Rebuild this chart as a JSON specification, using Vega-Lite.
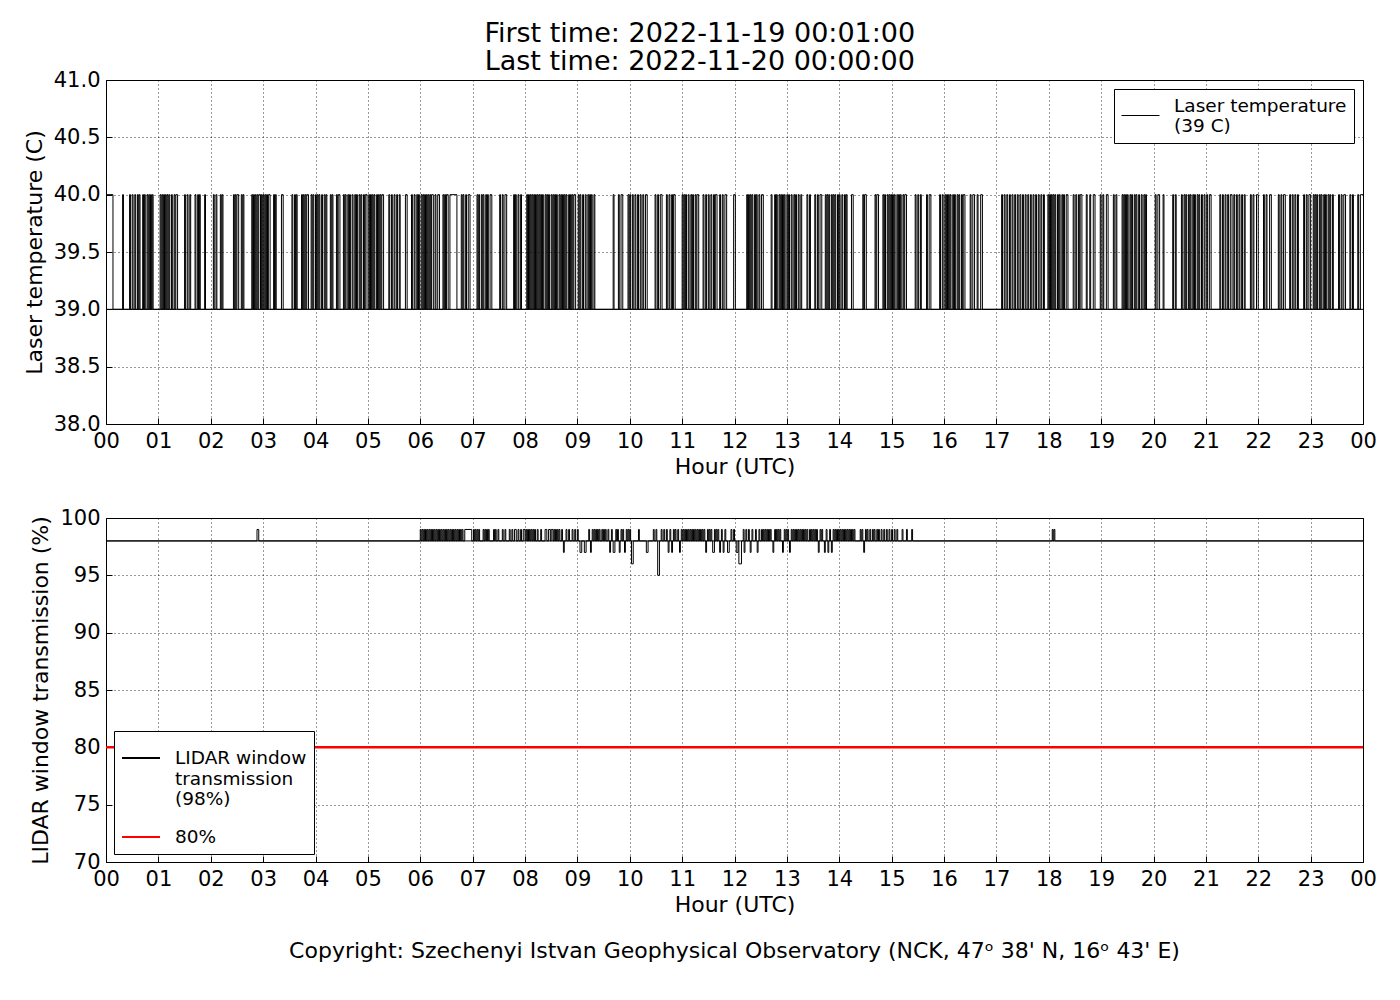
{
  "$schema": "https://vega.github.io/schema/vega-lite/v6.json",
  "background": "white",
  "padding": {"left": 22, "top": 19, "right": 12, "bottom": 10},
  "title": {
    "text": ["First time: 2022-11-19 00:01:00", "Last time: 2022-11-20 00:00:00"],
    "fontSize": 27,
    "lineHeight": 28,
    "fontWeight": "normal",
    "color": "black",
    "anchor": "middle",
    "offset": -7
  },
  "datasets": {
    "laser": [
      {"t":0,"v":40},{"t":8,"v":39},{"t":19,"v":40},{"t":20,"v":39},{"t":27,"v":40},{"t":28,"v":39},{"t":30,"v":40},{"t":31,"v":39},{"t":33,"v":40},{"t":34,"v":39},{"t":36,"v":40},{"t":37,"v":39},{"t":38,"v":40},{"t":39,"v":39},{"t":42,"v":40},{"t":43,"v":39},{"t":44,"v":40},{"t":45,"v":39},{"t":47,"v":40},{"t":48,"v":39},{"t":49,"v":40},{"t":50,"v":39},{"t":51,"v":40},{"t":52,"v":39},{"t":53,"v":40},{"t":54,"v":39},{"t":62,"v":40},{"t":63,"v":39},{"t":64,"v":40},{"t":65,"v":39},{"t":66,"v":40},{"t":67,"v":39},{"t":68,"v":40},{"t":69,"v":39},{"t":70,"v":40},{"t":71,"v":39},{"t":72,"v":40},{"t":73,"v":39},{"t":75,"v":40},{"t":76,"v":39},{"t":78,"v":40},{"t":79,"v":39},{"t":80,"v":40},{"t":82,"v":39},{"t":90,"v":40},{"t":91,"v":39},{"t":93,"v":40},{"t":94,"v":39},{"t":96,"v":40},{"t":97,"v":39},{"t":102,"v":40},{"t":103,"v":39},{"t":105,"v":40},{"t":106,"v":39},{"t":107,"v":40},{"t":108,"v":39},{"t":113,"v":40},{"t":114,"v":39},{"t":123,"v":40},{"t":124,"v":39},{"t":126,"v":40},{"t":127,"v":39},{"t":131,"v":40},{"t":132,"v":39},{"t":133,"v":40},{"t":134,"v":39},{"t":146,"v":40},{"t":147,"v":39},{"t":148,"v":40},{"t":149,"v":39},{"t":150,"v":40},{"t":152,"v":39},{"t":155,"v":40},{"t":156,"v":39},{"t":157,"v":40},{"t":158,"v":39},{"t":167,"v":40},{"t":168,"v":39},{"t":169,"v":40},{"t":170,"v":39},{"t":171,"v":40},{"t":172,"v":39},{"t":173,"v":40},{"t":174,"v":39},{"t":175,"v":40},{"t":177,"v":39},{"t":178,"v":40},{"t":179,"v":39},{"t":180,"v":40},{"t":181,"v":39},{"t":182,"v":40},{"t":183,"v":39},{"t":184,"v":40},{"t":185,"v":39},{"t":186,"v":40},{"t":188,"v":39},{"t":192,"v":40},{"t":193,"v":39},{"t":194,"v":40},{"t":195,"v":39},{"t":201,"v":40},{"t":203,"v":39},{"t":213,"v":40},{"t":214,"v":39},{"t":216,"v":40},{"t":217,"v":39},{"t":218,"v":40},{"t":219,"v":39},{"t":224,"v":40},{"t":225,"v":39},{"t":226,"v":40},{"t":227,"v":39},{"t":228,"v":40},{"t":229,"v":39},{"t":230,"v":40},{"t":232,"v":39},{"t":235,"v":40},{"t":236,"v":39},{"t":237,"v":40},{"t":238,"v":39},{"t":240,"v":40},{"t":241,"v":39},{"t":242,"v":40},{"t":243,"v":39},{"t":244,"v":40},{"t":245,"v":39},{"t":247,"v":40},{"t":248,"v":39},{"t":250,"v":40},{"t":251,"v":39},{"t":252,"v":40},{"t":253,"v":39},{"t":257,"v":40},{"t":258,"v":39},{"t":259,"v":40},{"t":260,"v":39},{"t":264,"v":40},{"t":265,"v":39},{"t":266,"v":40},{"t":268,"v":39},{"t":272,"v":40},{"t":273,"v":39},{"t":274,"v":40},{"t":275,"v":39},{"t":277,"v":40},{"t":278,"v":39},{"t":279,"v":40},{"t":280,"v":39},{"t":282,"v":40},{"t":283,"v":39},{"t":285,"v":40},{"t":286,"v":39},{"t":287,"v":40},{"t":288,"v":39},{"t":290,"v":40},{"t":291,"v":39},{"t":292,"v":40},{"t":293,"v":39},{"t":295,"v":40},{"t":296,"v":39},{"t":297,"v":40},{"t":299,"v":39},{"t":301,"v":40},{"t":302,"v":39},{"t":303,"v":40},{"t":304,"v":39},{"t":305,"v":40},{"t":306,"v":39},{"t":307,"v":40},{"t":308,"v":39},{"t":310,"v":40},{"t":311,"v":39},{"t":312,"v":40},{"t":313,"v":39},{"t":314,"v":40},{"t":315,"v":39},{"t":316,"v":40},{"t":318,"v":39},{"t":324,"v":40},{"t":325,"v":39},{"t":327,"v":40},{"t":328,"v":39},{"t":330,"v":40},{"t":331,"v":39},{"t":333,"v":40},{"t":334,"v":39},{"t":336,"v":40},{"t":337,"v":39},{"t":343,"v":40},{"t":345,"v":39},{"t":350,"v":40},{"t":351,"v":39},{"t":353,"v":40},{"t":354,"v":39},{"t":356,"v":40},{"t":357,"v":39},{"t":358,"v":40},{"t":359,"v":39},
      {"t":361,"v":40},{"t":362,"v":39},{"t":363,"v":40},{"t":364,"v":39},{"t":365,"v":40},{"t":366,"v":39},{"t":367,"v":40},{"t":368,"v":39},{"t":369,"v":40},{"t":370,"v":39},{"t":371,"v":40},{"t":372,"v":39},{"t":373,"v":40},{"t":375,"v":39},{"t":377,"v":40},{"t":378,"v":39},{"t":380,"v":40},{"t":382,"v":39},{"t":386,"v":40},{"t":387,"v":39},{"t":388,"v":40},{"t":389,"v":39},{"t":390,"v":40},{"t":392,"v":39},{"t":394,"v":40},{"t":402,"v":39},{"t":407,"v":40},{"t":408,"v":39},{"t":409,"v":40},{"t":410,"v":39},{"t":412,"v":40},{"t":413,"v":39},{"t":415,"v":40},{"t":417,"v":39},{"t":425,"v":40},{"t":426,"v":39},{"t":427,"v":40},{"t":428,"v":39},{"t":430,"v":40},{"t":431,"v":39},{"t":432,"v":40},{"t":433,"v":39},{"t":435,"v":40},{"t":436,"v":39},{"t":437,"v":40},{"t":438,"v":39},{"t":440,"v":40},{"t":442,"v":39},{"t":451,"v":40},{"t":452,"v":39},{"t":454,"v":40},{"t":455,"v":39},{"t":457,"v":40},{"t":459,"v":39},{"t":467,"v":40},{"t":468,"v":39},{"t":469,"v":40},{"t":470,"v":39},{"t":472,"v":40},{"t":473,"v":39},{"t":475,"v":40},{"t":476,"v":39},{"t":482,"v":40},{"t":483,"v":39},{"t":484,"v":40},{"t":485,"v":39},{"t":486,"v":40},{"t":487,"v":39},{"t":488,"v":40},{"t":489,"v":39},{"t":490,"v":40},{"t":491,"v":39},{"t":492,"v":40},{"t":493,"v":39},{"t":494,"v":40},{"t":495,"v":39},{"t":496,"v":40},{"t":497,"v":39},{"t":498,"v":40},{"t":499,"v":39},{"t":500,"v":40},{"t":501,"v":39},{"t":503,"v":40},{"t":504,"v":39},{"t":505,"v":40},{"t":506,"v":39},{"t":507,"v":40},{"t":508,"v":39},{"t":510,"v":40},{"t":511,"v":39},{"t":512,"v":40},{"t":513,"v":39},{"t":514,"v":40},{"t":515,"v":39},{"t":516,"v":40},{"t":517,"v":39},{"t":519,"v":40},{"t":520,"v":39},{"t":521,"v":40},{"t":522,"v":39},{"t":523,"v":40},{"t":524,"v":39},{"t":525,"v":40},{"t":526,"v":39},{"t":527,"v":40},{"t":528,"v":39},{"t":530,"v":40},{"t":531,"v":39},{"t":532,"v":40},{"t":533,"v":39},{"t":534,"v":40},{"t":535,"v":39},{"t":536,"v":40},{"t":538,"v":39},{"t":541,"v":40},{"t":542,"v":39},{"t":543,"v":40},{"t":544,"v":39},{"t":546,"v":40},{"t":547,"v":39},{"t":549,"v":40},{"t":550,"v":39},{"t":552,"v":40},{"t":553,"v":39},{"t":554,"v":40},{"t":555,"v":39},{"t":556,"v":40},{"t":557,"v":39},{"t":559,"v":40},{"t":560,"v":39},{"t":581,"v":40},{"t":582,"v":39},{"t":587,"v":40},{"t":588,"v":39},{"t":590,"v":40},{"t":592,"v":39},{"t":598,"v":40},{"t":599,"v":39},{"t":600,"v":40},{"t":601,"v":39},{"t":603,"v":40},{"t":604,"v":39},{"t":606,"v":40},{"t":607,"v":39},{"t":609,"v":40},{"t":610,"v":39},{"t":612,"v":40},{"t":613,"v":39},{"t":615,"v":40},{"t":616,"v":39},{"t":618,"v":40},{"t":620,"v":39},{"t":629,"v":40},{"t":630,"v":39},{"t":632,"v":40},{"t":633,"v":39},{"t":635,"v":40},{"t":637,"v":39},{"t":642,"v":40},{"t":643,"v":39},{"t":645,"v":40},{"t":646,"v":39},{"t":648,"v":40},{"t":649,"v":39},{"t":650,"v":40},{"t":652,"v":39},{"t":660,"v":40},{"t":661,"v":39},{"t":662,"v":40},{"t":663,"v":39},{"t":664,"v":40},{"t":665,"v":39},{"t":667,"v":40},{"t":668,"v":39},{"t":670,"v":40},{"t":671,"v":39},{"t":672,"v":40},{"t":673,"v":39},{"t":675,"v":40},{"t":676,"v":39},{"t":677,"v":40},{"t":679,"v":39},{"t":684,"v":40},{"t":685,"v":39},{"t":687,"v":40},{"t":688,"v":39},{"t":690,"v":40},{"t":691,"v":39},{"t":693,"v":40},{"t":694,"v":39},{"t":696,"v":40},{"t":697,"v":39},{"t":698,"v":40},{"t":700,"v":39},{"t":703,"v":40},{"t":704,"v":39},{"t":706,"v":40},{"t":707,"v":39},{"t":709,"v":40},{"t":711,"v":39},
      {"t":719,"v":40},{"t":721,"v":39},{"t":734,"v":40},{"t":735,"v":39},{"t":736,"v":40},{"t":737,"v":39},{"t":738,"v":40},{"t":739,"v":39},{"t":740,"v":40},{"t":741,"v":39},{"t":743,"v":40},{"t":744,"v":39},{"t":745,"v":40},{"t":746,"v":39},{"t":748,"v":40},{"t":749,"v":39},{"t":751,"v":40},{"t":753,"v":39},{"t":762,"v":40},{"t":763,"v":39},{"t":766,"v":40},{"t":767,"v":39},{"t":768,"v":40},{"t":769,"v":39},{"t":771,"v":40},{"t":772,"v":39},{"t":773,"v":40},{"t":774,"v":39},{"t":775,"v":40},{"t":776,"v":39},{"t":777,"v":40},{"t":778,"v":39},{"t":780,"v":40},{"t":781,"v":39},{"t":782,"v":40},{"t":783,"v":39},{"t":785,"v":40},{"t":786,"v":39},{"t":788,"v":40},{"t":789,"v":39},{"t":790,"v":40},{"t":791,"v":39},{"t":793,"v":40},{"t":794,"v":39},{"t":796,"v":40},{"t":797,"v":39},{"t":803,"v":40},{"t":804,"v":39},{"t":806,"v":40},{"t":807,"v":39},{"t":812,"v":40},{"t":813,"v":39},{"t":815,"v":40},{"t":816,"v":39},{"t":818,"v":40},{"t":820,"v":39},{"t":824,"v":40},{"t":825,"v":39},{"t":826,"v":40},{"t":827,"v":39},{"t":828,"v":40},{"t":829,"v":39},{"t":831,"v":40},{"t":832,"v":39},{"t":833,"v":40},{"t":834,"v":39},{"t":835,"v":40},{"t":836,"v":39},{"t":838,"v":40},{"t":839,"v":39},{"t":840,"v":40},{"t":841,"v":39},{"t":843,"v":40},{"t":844,"v":39},{"t":846,"v":40},{"t":847,"v":39},{"t":848,"v":40},{"t":849,"v":39},{"t":854,"v":40},{"t":856,"v":39},{"t":867,"v":40},{"t":868,"v":39},{"t":869,"v":40},{"t":871,"v":39},{"t":881,"v":40},{"t":882,"v":39},{"t":883,"v":40},{"t":885,"v":39},{"t":890,"v":40},{"t":891,"v":39},{"t":892,"v":40},{"t":893,"v":39},{"t":895,"v":40},{"t":896,"v":39},{"t":897,"v":40},{"t":898,"v":39},{"t":899,"v":40},{"t":900,"v":39},{"t":901,"v":40},{"t":902,"v":39},{"t":903,"v":40},{"t":904,"v":39},{"t":906,"v":40},{"t":907,"v":39},{"t":908,"v":40},{"t":909,"v":39},{"t":910,"v":40},{"t":911,"v":39},{"t":913,"v":40},{"t":914,"v":39},{"t":915,"v":40},{"t":917,"v":39},{"t":927,"v":40},{"t":928,"v":39},{"t":930,"v":40},{"t":931,"v":39},{"t":933,"v":40},{"t":934,"v":39},{"t":940,"v":40},{"t":941,"v":39},{"t":943,"v":40},{"t":945,"v":39},{"t":955,"v":40},{"t":956,"v":39},{"t":958,"v":40},{"t":959,"v":39},{"t":961,"v":40},{"t":962,"v":39},{"t":963,"v":40},{"t":964,"v":39},{"t":965,"v":40},{"t":966,"v":39},{"t":967,"v":40},{"t":968,"v":39},{"t":970,"v":40},{"t":971,"v":39},{"t":972,"v":40},{"t":973,"v":39},{"t":975,"v":40},{"t":976,"v":39},{"t":977,"v":40},{"t":978,"v":39},{"t":980,"v":40},{"t":981,"v":39},{"t":982,"v":40},{"t":984,"v":39},{"t":990,"v":40},{"t":991,"v":39},{"t":993,"v":40},{"t":995,"v":39},{"t":998,"v":40},{"t":999,"v":39},{"t":1002,"v":40},{"t":1004,"v":39},{"t":1026,"v":40},{"t":1027,"v":39},{"t":1029,"v":40},{"t":1030,"v":39},{"t":1032,"v":40},{"t":1033,"v":39},{"t":1035,"v":40},{"t":1036,"v":39},{"t":1038,"v":40},{"t":1039,"v":39},{"t":1041,"v":40},{"t":1042,"v":39},{"t":1044,"v":40},{"t":1045,"v":39},{"t":1047,"v":40},{"t":1048,"v":39},{"t":1050,"v":40},{"t":1051,"v":39},{"t":1053,"v":40},{"t":1054,"v":39},{"t":1056,"v":40},{"t":1057,"v":39},{"t":1059,"v":40},{"t":1060,"v":39},{"t":1062,"v":40},{"t":1063,"v":39},{"t":1065,"v":40},{"t":1066,"v":39},{"t":1068,"v":40},{"t":1069,"v":39},{"t":1071,"v":40},{"t":1072,"v":39},{"t":1074,"v":40},{"t":1075,"v":39},
      {"t":1079,"v":40},{"t":1080,"v":39},{"t":1081,"v":40},{"t":1082,"v":39},{"t":1083,"v":40},{"t":1084,"v":39},{"t":1085,"v":40},{"t":1086,"v":39},{"t":1087,"v":40},{"t":1088,"v":39},{"t":1090,"v":40},{"t":1091,"v":39},{"t":1092,"v":40},{"t":1093,"v":39},{"t":1095,"v":40},{"t":1096,"v":39},{"t":1097,"v":40},{"t":1098,"v":39},{"t":1100,"v":40},{"t":1102,"v":39},{"t":1108,"v":40},{"t":1109,"v":39},{"t":1111,"v":40},{"t":1112,"v":39},{"t":1114,"v":40},{"t":1115,"v":39},{"t":1116,"v":40},{"t":1118,"v":39},{"t":1123,"v":40},{"t":1124,"v":39},{"t":1127,"v":40},{"t":1128,"v":39},{"t":1131,"v":40},{"t":1133,"v":39},{"t":1139,"v":40},{"t":1140,"v":39},{"t":1142,"v":40},{"t":1143,"v":39},{"t":1146,"v":40},{"t":1148,"v":39},{"t":1154,"v":40},{"t":1155,"v":39},{"t":1157,"v":40},{"t":1158,"v":39},{"t":1164,"v":40},{"t":1165,"v":39},{"t":1166,"v":40},{"t":1167,"v":39},{"t":1168,"v":40},{"t":1169,"v":39},{"t":1170,"v":40},{"t":1171,"v":39},{"t":1173,"v":40},{"t":1174,"v":39},{"t":1175,"v":40},{"t":1176,"v":39},{"t":1178,"v":40},{"t":1179,"v":39},{"t":1180,"v":40},{"t":1181,"v":39},{"t":1183,"v":40},{"t":1184,"v":39},{"t":1186,"v":40},{"t":1187,"v":39},{"t":1189,"v":40},{"t":1190,"v":39},{"t":1191,"v":40},{"t":1192,"v":39},{"t":1202,"v":40},{"t":1203,"v":39},{"t":1205,"v":40},{"t":1207,"v":39},{"t":1211,"v":40},{"t":1212,"v":39},{"t":1222,"v":40},{"t":1223,"v":39},{"t":1225,"v":40},{"t":1226,"v":39},{"t":1232,"v":40},{"t":1233,"v":39},{"t":1235,"v":40},{"t":1236,"v":39},{"t":1237,"v":40},{"t":1238,"v":39},{"t":1240,"v":40},{"t":1241,"v":39},{"t":1242,"v":40},{"t":1243,"v":39},{"t":1245,"v":40},{"t":1246,"v":39},{"t":1247,"v":40},{"t":1248,"v":39},{"t":1250,"v":40},{"t":1251,"v":39},{"t":1252,"v":40},{"t":1253,"v":39},{"t":1255,"v":40},{"t":1256,"v":39},{"t":1258,"v":40},{"t":1259,"v":39},{"t":1261,"v":40},{"t":1262,"v":39},{"t":1264,"v":40},{"t":1266,"v":39},{"t":1276,"v":40},{"t":1277,"v":39},{"t":1279,"v":40},{"t":1280,"v":39},{"t":1282,"v":40},{"t":1283,"v":39},{"t":1285,"v":40},{"t":1286,"v":39},{"t":1288,"v":40},{"t":1290,"v":39},{"t":1292,"v":40},{"t":1293,"v":39},{"t":1295,"v":40},{"t":1296,"v":39},{"t":1298,"v":40},{"t":1299,"v":39},{"t":1301,"v":40},{"t":1302,"v":39},{"t":1304,"v":40},{"t":1305,"v":39},{"t":1311,"v":40},{"t":1312,"v":39},{"t":1314,"v":40},{"t":1315,"v":39},{"t":1318,"v":40},{"t":1320,"v":39},{"t":1326,"v":40},{"t":1327,"v":39},{"t":1329,"v":40},{"t":1330,"v":39},{"t":1333,"v":40},{"t":1335,"v":39},{"t":1343,"v":40},{"t":1344,"v":39},{"t":1346,"v":40},{"t":1347,"v":39},{"t":1349,"v":40},{"t":1351,"v":39},{"t":1356,"v":40},{"t":1357,"v":39},{"t":1359,"v":40},{"t":1360,"v":39},{"t":1362,"v":40},{"t":1363,"v":39},{"t":1365,"v":40},{"t":1366,"v":39},{"t":1372,"v":40},{"t":1373,"v":39},{"t":1375,"v":40},{"t":1376,"v":39},{"t":1378,"v":40},{"t":1380,"v":39},{"t":1383,"v":40},{"t":1384,"v":39},{"t":1385,"v":40},{"t":1386,"v":39},{"t":1387,"v":40},{"t":1388,"v":39},{"t":1390,"v":40},{"t":1391,"v":39},{"t":1392,"v":40},{"t":1393,"v":39},{"t":1395,"v":40},{"t":1396,"v":39},{"t":1397,"v":40},{"t":1398,"v":39},{"t":1400,"v":40},{"t":1401,"v":39},{"t":1402,"v":40},{"t":1403,"v":39},{"t":1405,"v":40},{"t":1406,"v":39},{"t":1412,"v":40},{"t":1413,"v":39},{"t":1415,"v":40},{"t":1416,"v":39},{"t":1418,"v":40},{"t":1420,"v":39},{"t":1425,"v":40},{"t":1426,"v":39},{"t":1428,"v":40},{"t":1429,"v":39},{"t":1434,"v":40},{"t":1435,"v":39},{"t":1437,"v":40},{"t":1440,"v":40}
    ],
    "trans": [
      {"t":0,"v":98},{"t":173,"v":99},{"t":175,"v":98},
      {"t":360,"v":99},{"t":361,"v":98},{"t":362,"v":99},{"t":363,"v":98},{"t":364,"v":99},{"t":365,"v":98},{"t":366,"v":99},{"t":367,"v":98},{"t":368,"v":99},{"t":369,"v":98},{"t":370,"v":99},{"t":371,"v":98},{"t":372,"v":99},{"t":373,"v":98},{"t":374,"v":99},{"t":375,"v":98},{"t":376,"v":99},{"t":377,"v":98},{"t":378,"v":99},{"t":379,"v":98},{"t":380,"v":99},{"t":381,"v":98},{"t":382,"v":99},{"t":383,"v":98},{"t":384,"v":99},{"t":385,"v":98},{"t":386,"v":99},{"t":387,"v":98},{"t":388,"v":99},{"t":389,"v":98},{"t":390,"v":99},{"t":391,"v":98},{"t":392,"v":99},{"t":393,"v":98},{"t":394,"v":99},{"t":395,"v":98},{"t":396,"v":99},{"t":397,"v":98},{"t":398,"v":99},{"t":399,"v":98},{"t":400,"v":99},{"t":401,"v":98},{"t":402,"v":99},{"t":403,"v":98},{"t":404,"v":99},{"t":405,"v":98},{"t":406,"v":99},{"t":407,"v":98},{"t":408,"v":99},{"t":409,"v":98},{"t":411,"v":99},{"t":419,"v":98},
      {"t":421,"v":99},{"t":422,"v":98},{"t":423,"v":99},{"t":424,"v":98},{"t":425,"v":99},{"t":426,"v":98},{"t":427,"v":99},{"t":428,"v":98},{"t":432,"v":99},{"t":433,"v":98},{"t":434,"v":99},{"t":435,"v":98},{"t":436,"v":99},{"t":437,"v":98},{"t":438,"v":99},{"t":439,"v":98},{"t":444,"v":99},{"t":445,"v":98},{"t":446,"v":99},{"t":447,"v":98},{"t":449,"v":99},{"t":450,"v":98},{"t":454,"v":99},{"t":455,"v":98},{"t":457,"v":99},{"t":458,"v":98},{"t":462,"v":99},{"t":463,"v":98},{"t":465,"v":99},{"t":466,"v":98},{"t":468,"v":99},{"t":470,"v":98},{"t":472,"v":99},{"t":473,"v":98},{"t":475,"v":99},{"t":476,"v":98},
      {"t":478,"v":99},{"t":480,"v":98},{"t":481,"v":99},{"t":482,"v":98},{"t":483,"v":99},{"t":484,"v":98},{"t":485,"v":99},{"t":486,"v":98},{"t":487,"v":99},{"t":488,"v":98},{"t":489,"v":99},{"t":490,"v":98},{"t":491,"v":99},{"t":492,"v":98},{"t":494,"v":99},{"t":495,"v":98},{"t":498,"v":99},{"t":499,"v":98},{"t":503,"v":99},{"t":505,"v":98},{"t":507,"v":99},{"t":509,"v":98},
      {"t":510,"v":99},{"t":512,"v":98},{"t":513,"v":99},{"t":514,"v":98},{"t":515,"v":99},{"t":516,"v":98},{"t":517,"v":99},{"t":518,"v":98},{"t":519,"v":99},{"t":520,"v":98},{"t":522,"v":99},{"t":523,"v":98},{"t":524,"v":97},{"t":525,"v":98},{"t":527,"v":99},{"t":528,"v":98},{"t":530,"v":99},{"t":531,"v":98},{"t":534,"v":99},{"t":535,"v":98},{"t":537,"v":99},{"t":538,"v":98},{"t":540,"v":99},{"t":541,"v":98},
      {"t":543,"v":97},{"t":545,"v":98},{"t":548,"v":97},{"t":550,"v":98},{"t":553,"v":99},{"t":554,"v":98},{"t":555,"v":97},{"t":556,"v":98},{"t":557,"v":99},{"t":558,"v":98},
      {"t":559,"v":99},{"t":560,"v":98},{"t":561,"v":99},{"t":562,"v":98},{"t":563,"v":99},{"t":564,"v":98},{"t":565,"v":99},{"t":566,"v":98},{"t":568,"v":99},{"t":569,"v":98},{"t":570,"v":99},{"t":571,"v":98},{"t":572,"v":99},{"t":573,"v":98},{"t":575,"v":99},{"t":576,"v":98},{"t":577,"v":97},{"t":578,"v":98},{"t":579,"v":99},{"t":580,"v":98},{"t":581,"v":97},{"t":583,"v":98},{"t":584,"v":99},{"t":585,"v":98},{"t":586,"v":99},{"t":587,"v":98},{"t":588,"v":97},{"t":589,"v":98},{"t":590,"v":99},{"t":591,"v":98},{"t":592,"v":99},{"t":593,"v":98},{"t":594,"v":97},{"t":595,"v":98},{"t":596,"v":99},{"t":597,"v":98},{"t":598,"v":99},{"t":599,"v":98},{"t":600,"v":99},{"t":601,"v":98},{"t":602,"v":96},{"t":604,"v":98},
      {"t":610,"v":99},{"t":611,"v":98},{"t":619,"v":97},{"t":621,"v":98},{"t":627,"v":99},{"t":628,"v":98},{"t":630,"v":99},{"t":631,"v":98},{"t":632,"v":95},{"t":634,"v":98},{"t":636,"v":99},{"t":637,"v":98},{"t":639,"v":99},{"t":640,"v":98},
      {"t":642,"v":99},{"t":643,"v":98},{"t":644,"v":97},{"t":645,"v":98},{"t":646,"v":99},{"t":647,"v":98},{"t":648,"v":97},{"t":649,"v":98},{"t":650,"v":99},{"t":651,"v":98},{"t":652,"v":99},{"t":653,"v":98},{"t":655,"v":99},{"t":656,"v":98},{"t":657,"v":97},{"t":658,"v":98},{"t":659,"v":99},{"t":660,"v":98},
      {"t":661,"v":99},{"t":662,"v":98},{"t":663,"v":99},{"t":664,"v":98},{"t":665,"v":99},{"t":666,"v":98},{"t":667,"v":99},{"t":668,"v":98},{"t":669,"v":99},{"t":670,"v":98},{"t":671,"v":99},{"t":672,"v":98},{"t":673,"v":99},{"t":674,"v":98},{"t":675,"v":99},{"t":676,"v":98},{"t":677,"v":99},{"t":678,"v":98},{"t":679,"v":99},{"t":680,"v":98},{"t":681,"v":99},{"t":682,"v":98},{"t":683,"v":99},{"t":684,"v":98},{"t":685,"v":99},{"t":686,"v":98},{"t":687,"v":97},{"t":688,"v":98},{"t":689,"v":99},{"t":690,"v":98},{"t":691,"v":99},{"t":692,"v":98},{"t":693,"v":99},{"t":694,"v":98},{"t":695,"v":97},{"t":697,"v":99},{"t":698,"v":98},{"t":699,"v":99},{"t":700,"v":98},{"t":701,"v":99},{"t":702,"v":98},{"t":703,"v":97},{"t":704,"v":98},
      {"t":705,"v":99},{"t":706,"v":98},{"t":707,"v":97},{"t":708,"v":98},{"t":709,"v":99},{"t":710,"v":98},{"t":712,"v":97},{"t":714,"v":98},{"t":716,"v":99},{"t":717,"v":98},{"t":719,"v":99},{"t":720,"v":98},{"t":722,"v":97},{"t":724,"v":98},{"t":725,"v":96},{"t":728,"v":98},{"t":730,"v":99},{"t":731,"v":97},{"t":732,"v":98},{"t":733,"v":99},{"t":734,"v":98},{"t":736,"v":99},{"t":737,"v":98},{"t":738,"v":97},{"t":739,"v":98},{"t":740,"v":99},{"t":741,"v":98},{"t":744,"v":99},{"t":745,"v":98},{"t":746,"v":97},{"t":747,"v":98},{"t":748,"v":99},{"t":749,"v":98},{"t":751,"v":99},{"t":752,"v":98},
      {"t":753,"v":99},{"t":754,"v":98},{"t":755,"v":99},{"t":756,"v":98},{"t":757,"v":99},{"t":758,"v":98},{"t":759,"v":99},{"t":760,"v":98},{"t":761,"v":99},{"t":762,"v":98},{"t":764,"v":97},{"t":765,"v":98},{"t":766,"v":99},{"t":767,"v":98},{"t":768,"v":99},{"t":769,"v":98},{"t":770,"v":99},{"t":771,"v":98},{"t":772,"v":99},{"t":773,"v":98},{"t":775,"v":97},{"t":776,"v":98},{"t":777,"v":99},{"t":778,"v":98},{"t":779,"v":99},{"t":780,"v":98},{"t":781,"v":99},{"t":782,"v":98},{"t":783,"v":97},{"t":784,"v":98},{"t":785,"v":99},{"t":786,"v":98},{"t":787,"v":99},{"t":788,"v":98},{"t":789,"v":99},{"t":790,"v":98},
      {"t":791,"v":99},{"t":792,"v":98},{"t":793,"v":99},{"t":794,"v":98},{"t":795,"v":99},{"t":796,"v":98},{"t":797,"v":99},{"t":798,"v":98},{"t":799,"v":99},{"t":800,"v":98},{"t":801,"v":99},{"t":802,"v":98},{"t":803,"v":99},{"t":804,"v":98},{"t":806,"v":99},{"t":807,"v":98},{"t":808,"v":99},{"t":809,"v":98},{"t":810,"v":99},{"t":811,"v":98},{"t":812,"v":99},{"t":813,"v":98},{"t":814,"v":99},{"t":815,"v":98},{"t":816,"v":97},{"t":817,"v":98},{"t":818,"v":99},{"t":819,"v":98},{"t":820,"v":99},{"t":821,"v":98},{"t":823,"v":97},{"t":824,"v":98},{"t":825,"v":99},{"t":826,"v":98},{"t":827,"v":97},{"t":828,"v":98},{"t":829,"v":99},{"t":830,"v":98},{"t":831,"v":97},{"t":832,"v":98},
      {"t":833,"v":99},{"t":834,"v":98},{"t":835,"v":99},{"t":836,"v":98},{"t":837,"v":99},{"t":838,"v":98},{"t":839,"v":99},{"t":840,"v":98},{"t":841,"v":99},{"t":842,"v":98},{"t":843,"v":99},{"t":844,"v":98},{"t":845,"v":99},{"t":846,"v":98},{"t":847,"v":99},{"t":848,"v":98},{"t":849,"v":99},{"t":850,"v":98},{"t":851,"v":99},{"t":852,"v":98},{"t":853,"v":99},{"t":854,"v":98},{"t":855,"v":99},{"t":856,"v":98},{"t":857,"v":99},{"t":858,"v":98},
      {"t":864,"v":99},{"t":865,"v":98},{"t":866,"v":99},{"t":867,"v":98},{"t":868,"v":97},{"t":869,"v":98},{"t":870,"v":99},{"t":871,"v":98},{"t":872,"v":99},{"t":873,"v":98},{"t":875,"v":99},{"t":876,"v":98},{"t":878,"v":99},{"t":879,"v":98},{"t":880,"v":99},{"t":881,"v":98},{"t":883,"v":99},{"t":884,"v":98},{"t":885,"v":99},{"t":886,"v":98},{"t":888,"v":99},{"t":889,"v":98},{"t":891,"v":99},{"t":892,"v":98},{"t":894,"v":99},{"t":895,"v":98},{"t":897,"v":99},{"t":898,"v":98},{"t":900,"v":99},{"t":901,"v":98},{"t":903,"v":99},{"t":904,"v":98},{"t":906,"v":99},{"t":907,"v":98},{"t":912,"v":99},{"t":913,"v":98},{"t":917,"v":99},{"t":918,"v":98},{"t":923,"v":99},{"t":924,"v":98},
      {"t":1084,"v":99},{"t":1085,"v":98},{"t":1086,"v":99},{"t":1087,"v":98},{"t":1440,"v":98}
    ]
  },
  "spacing": 94,
  "bounds": "flush",
  "resolve": {"scale": {"color": "independent"}},
  "vconcat": [
    {
      "width": 1257,
      "height": 344,
      "layer": [
        {
          "data": {"name": "laser"},
          "mark": {"type": "line", "interpolate": "step-after", "color": "black", "strokeWidth": 1},
          "encoding": {
            "x": {
              "field": "t",
              "type": "quantitative",
              "scale": {"domain": [0, 1440], "nice": false, "zero": false},
              "axis": {
                "values": [0, 60, 120, 180, 240, 300, 360, 420, 480, 540, 600, 660, 720, 780, 840, 900, 960, 1020, 1080, 1140, 1200, 1260, 1320, 1380, 1440],
                "labelExpr": "datum.value == 1440 ? '00' : (datum.value < 600 ? '0' : '') + (datum.value / 60)",
                "title": "Hour (UTC)"
              }
            },
            "y": {
              "field": "v",
              "type": "quantitative",
              "scale": {"domain": [38, 41], "nice": false, "zero": false},
              "axis": {
                "values": [38, 38.5, 39, 39.5, 40, 40.5, 41],
                "format": ".1f",
                "title": "Laser temperature (C)"
              }
            }
          }
        },
        {
          "data": {"values": [{"series": "Laser temperature|(39 C)", "v": 39}]},
          "mark": {"type": "rule", "strokeWidth": 1},
          "encoding": {
            "y": {"field": "v", "type": "quantitative"},
            "color": {
              "field": "series",
              "type": "nominal",
              "scale": {"range": ["black"]},
              "legend": {
                "title": null,
                "orient": "top-right",
                "offset": 9,
                "labelExpr": "split(datum.label, '|')",
                "symbolStrokeWidth": 1,
                "encode": {"labels": {"update": {"dy": {"value": -10}}}}
              }
            }
          }
        }
      ]
    },
    {
      "width": 1257,
      "height": 344,
      "title": {
        "text": "Copyright: Szechenyi Istvan Geophysical Observatory (NCK, 47ᵒ  38' N, 16ᵒ  43' E)",
        "orient": "bottom",
        "anchor": "middle",
        "offset": 26,
        "fontSize": 22,
        "fontWeight": "normal",
        "color": "black"
      },
      "layer": [
        {
          "data": {"name": "trans"},
          "mark": {"type": "line", "interpolate": "step-after", "color": "black", "strokeWidth": 1},
          "encoding": {
            "x": {
              "field": "t",
              "type": "quantitative",
              "scale": {"domain": [0, 1440], "nice": false, "zero": false},
              "axis": {
                "values": [0, 60, 120, 180, 240, 300, 360, 420, 480, 540, 600, 660, 720, 780, 840, 900, 960, 1020, 1080, 1140, 1200, 1260, 1320, 1380, 1440],
                "labelExpr": "datum.value == 1440 ? '00' : (datum.value < 600 ? '0' : '') + (datum.value / 60)",
                "title": "Hour (UTC)"
              }
            },
            "y": {
              "field": "v",
              "type": "quantitative",
              "scale": {"domain": [70, 100], "nice": false, "zero": false},
              "axis": {
                "values": [70, 75, 80, 85, 90, 95, 100],
                "title": "LIDAR window transmission (%)"
              }
            }
          }
        },
        {
          "data": {"values": [{"series": "LIDAR window|transmission|(98%)", "v": 98}]},
          "mark": {"type": "rule", "strokeWidth": 1},
          "encoding": {
            "y": {"field": "v", "type": "quantitative"},
            "color": {
              "field": "series",
              "type": "nominal",
              "scale": {"domain": ["LIDAR window|transmission|(98%)", "80%"], "range": ["black", "red"]},
              "legend": {
                "title": null,
                "orient": "bottom-left",
                "offset": 8,
                "labelExpr": "split(datum.label, '|')",
                "symbolStrokeWidth": 1.8
              }
            }
          }
        },
        {
          "data": {"values": [{"series": "80%", "v": 80}]},
          "mark": {"type": "rule", "strokeWidth": 2.5},
          "encoding": {
            "y": {"field": "v", "type": "quantitative"},
            "color": {"field": "series", "type": "nominal"}
          }
        }
      ]
    }
  ],
  "config": {
    "font": "DejaVu Sans",
    "view": {"stroke": "black", "strokeWidth": 1},
    "axis": {
      "labelFontSize": 21,
      "titleFontSize": 22,
      "titleFontWeight": "normal",
      "labelColor": "black",
      "titleColor": "black",
      "domain": false,
      "grid": true,
      "tickColor": "black",
      "tickSize": -6,
      "labelPadding": 12,
      "gridColor": "black",
      "gridDash": [1, 3],
      "gridOpacity": 0.8,
      "labelFlush": false,
      "labelOverlap": false
    },
    "axisX": {"titlePadding": 5},
    "axisY": {"titlePadding": 7},
    "legend": {
      "strokeColor": "black",
      "fillColor": "white",
      "cornerRadius": 0,
      "padding": 7,
      "symbolType": "stroke",
      "symbolSize": 1444,
      "labelFontSize": 18.5,
      "labelColor": "black",
      "labelLimit": 400,
      "labelOffset": 14,
      "rowPadding": 8
    }
  }
}
